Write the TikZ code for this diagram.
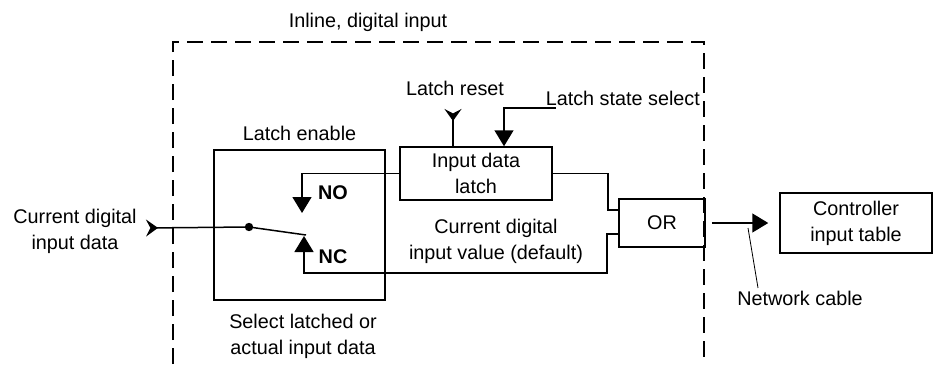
\documentclass[tikz,border=0pt]{standalone}
\usepackage{fontspec}
\setmainfont{Liberation Sans}
\usetikzlibrary{arrows.meta, positioning}

\begin{document}
\begin{tikzpicture}[
      x = 0.5pt, y = -0.5pt,            % pixel units, y runs downwards
      > = {Triangle[length=8pt, width=9.5pt]}, % filled arrow heads
      line width = 0.75pt,
      font = \fontsize{9.9}{13}\selectfont
    ]

    \tikzstyle{box}=[      % Defines style for the blocks
      draw, rectangle,
      align = center,
      inner sep = 0pt
    ]

    \tikzstyle{lbl}=[      % Defines style for free text
      align = center,
      inner sep = 1pt
    ]

    \tikzstyle{feed}=[     % Chevron at the start of an input line
      {Stealth[reversed, length=6pt, width=8.5pt, inset=2.2pt]}-
    ]

    \tikzstyle{dot}=[
      circle, fill,
      inner sep = 0pt,
      minimum size = 4.2pt
    ]

    \useasboundingbox (0,0) rectangle (935,364);

    % Inline frame
    \draw[dash pattern=on 8pt off 4pt] (173,364) -- (173,42) -- (704,42) -- (704,364);
    \node[lbl] (title) at (368,22) {Inline, digital input};

    % Definition of the nodes
    \node[box, minimum width=85.5pt, minimum height=75pt] (sel) at (299.5,225) {};
    \node[lbl] (enable) [above=3pt of sel] {Latch enable};
    \node[lbl] (selname) at (303,336) {Select latched or\\actual input data};

    \node[box, minimum width=76pt, minimum height=26.5pt] (latch) at (476,173.5) {Input data\\latch};
    \node[box, minimum width=43pt, minimum height=24pt] (or) at (662,223) {OR};
    \node[box, minimum width=76pt, minimum height=30pt] (ctrl) at (856,223) {Controller\\input table};

    \node[lbl] (cdata) at (75,231) {Current digital\\input data};
    \node[lbl] (cvalue) at (496,241) {Current digital\\input value (default)};
    \node[lbl] (reset) at (455,88) {Latch reset};
    \node[lbl, anchor=west] (state) at (543,98) {Latch state select};
    \node[lbl] (net) at (800,298) {Network cable};

    \node[lbl, font=\fontsize{9.9}{13}\selectfont\bfseries] (no) at (333,193) {NO};
    \node[lbl, font=\fontsize{9.9}{13}\selectfont\bfseries] (nc) at (333,257) {NC};

    \node[dot] (pivot) at (249,227) {};
    \coordinate (cin) at (146,228);
    \coordinate (lever) at (306,235);
    \coordinate (noin) at (302,213);
    \coordinate (ncin) at (304,236);
    \coordinate (rst) at (453,109);
    \coordinate (sts) at (556,108);
    \coordinate (cab) at (748,228);

    % Definition of the edges
    \draw[feed] (cin) -- (pivot.center);
    \draw (pivot.center) -- (lever);
    \draw[->] (latch.west) -| (noin);
    \draw[->] ([yshift=-5.5pt]or.west) -- (607,234) -- (607,273) -| (ncin);
    \draw (latch.east) -- (608,173.5) |- ([yshift=6.5pt]or.west);

    \draw[feed] (rst) -- (rst |- latch.north);
    \draw[->] (sts) -| ([xshift=14pt]latch.north);

    \draw[->, shorten >=5.5pt] ([xshift=3pt]or.east) -- (ctrl.west);
    \draw[line width=0.4pt] (cab) -- ([xshift=-21pt]net.north);

  \end{tikzpicture}
\end{document}
